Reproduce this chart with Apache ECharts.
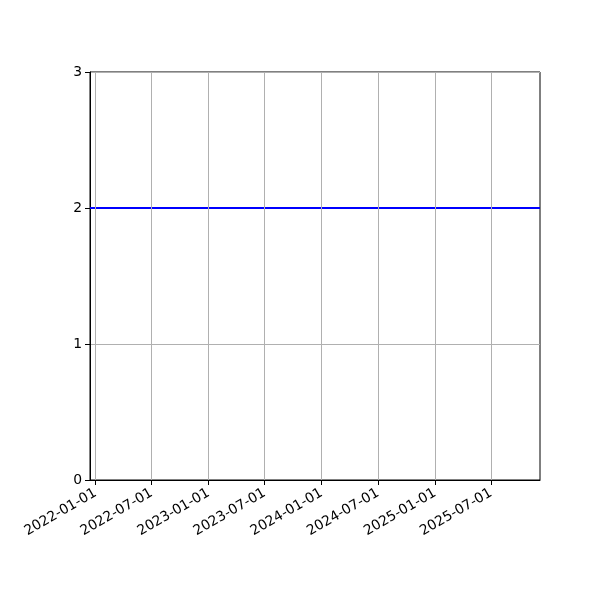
<!DOCTYPE html>
<html>
<head>
<meta charset="utf-8">
<script src="https://cdn.jsdelivr.net/npm/echarts@6/dist/echarts.min.js"></script>
<style>html,body{margin:0;padding:0;background:#fff}#c{width:600px;height:600px}</style>
</head>
<body>
<div id="c"></div>
<script>
// Data
var xTickLabels = ['2022-01-01','2022-07-01','2023-01-01','2023-07-01','2024-01-01','2024-07-01','2025-01-01','2025-07-01'];
var yTicks = [0, 1, 2, 3];
var xRange = ['2021-12-14', '2025-12-06'];
var lineDates = ['2021-12-14', '2025-12-06'];
var lineValues = [2, 2];

function ms(s){ return Date.parse(s + 'T00:00:00Z'); }
var tickMs = xTickLabels.map(ms);
var chart = echarts.init(document.getElementById('c'));
chart.setOption({
  animation: false,
  backgroundColor: '#fff',
  grid: { left: 90, right: 60, top: 72, bottom: 120, show: true, borderColor: '#000', borderWidth: 1, containLabel: false },
  xAxis: {
    type: 'value',
    min: ms(xRange[0]), max: ms(xRange[1]),
    axisLine: { show: true, lineStyle: { color: '#000', width: 1 } },
    axisTick: { show: true, length: 5, lineStyle: { color: '#000' }, customValues: tickMs },
    axisLabel: {
      customValues: tickMs, rotate: 30, margin: 12, color: '#000', fontSize: 13.9, fontFamily: 'DejaVu Sans',
      formatter: function(v){ return new Date(v).toISOString().slice(0,10); }
    },
    splitLine: { show: false }
  },
  yAxis: {
    type: 'value', min: yTicks[0], max: yTicks[yTicks.length-1], interval: 1,
    axisLine: { show: true, lineStyle: { color: '#000', width: 1 } },
    axisTick: { show: true, length: 5, lineStyle: { color: '#000' } },
    axisLabel: { margin: 8, color: '#000', fontSize: 13.9, fontFamily: 'DejaVu Sans' },
    splitLine: { show: true, lineStyle: { color: '#b0b0b0', width: 1 } }
  },
  series: [
    {
      type: 'line', data: [], z: 1, silent: true,
      markLine: {
        silent: true, symbol: 'none', animation: false,
        label: { show: false },
        lineStyle: { color: '#b0b0b0', width: 1, type: 'solid' },
        data: tickMs.map(function(t){ return { xAxis: t }; })
      }
    },
    {
      type: 'line', z: 3, showSymbol: false, silent: true,
      lineStyle: { color: '#0000ff', width: 1.8 },
      data: lineDates.map(function(d, i){ return [ms(d), lineValues[i]]; })
    }
  ]
});
</script>
</body>
</html>
